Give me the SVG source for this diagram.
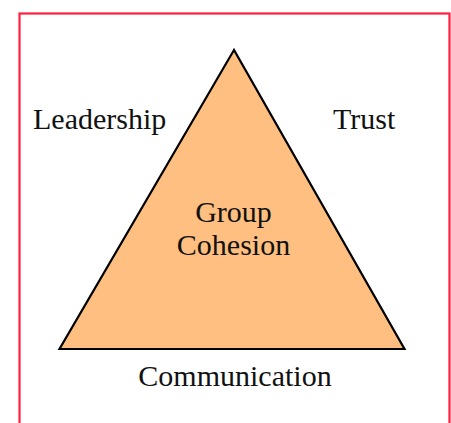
<svg xmlns="http://www.w3.org/2000/svg" width="451" height="423" viewBox="0 0 451 423">
<style>
text{font-family:"Liberation Serif","Times New Roman",serif;font-size:30px;fill:#111;}
.c{text-anchor:middle;}
</style>
<rect x="0" y="0" width="451" height="423" fill="#fff"/>
<rect x="19.5" y="13.5" width="430" height="430" fill="none" stroke="#FF2040" stroke-width="2.2"/>
<g id="triangle">
<polygon points="234,50 59.5,349 404.5,349" fill="#FFBF80" stroke="#000" stroke-width="2.2" stroke-linejoin="miter"/>
<text class="c" x="233.5" y="222">Group</text>
<text class="c" x="233.5" y="255">Cohesion</text>
</g>
<g id="leadership"><text x="33" y="129">Leadership</text></g>
<g id="trust"><text x="333" y="129">Trust</text></g>
<g id="communication"><text class="c" x="235" y="386">Communication</text></g>
</svg>
